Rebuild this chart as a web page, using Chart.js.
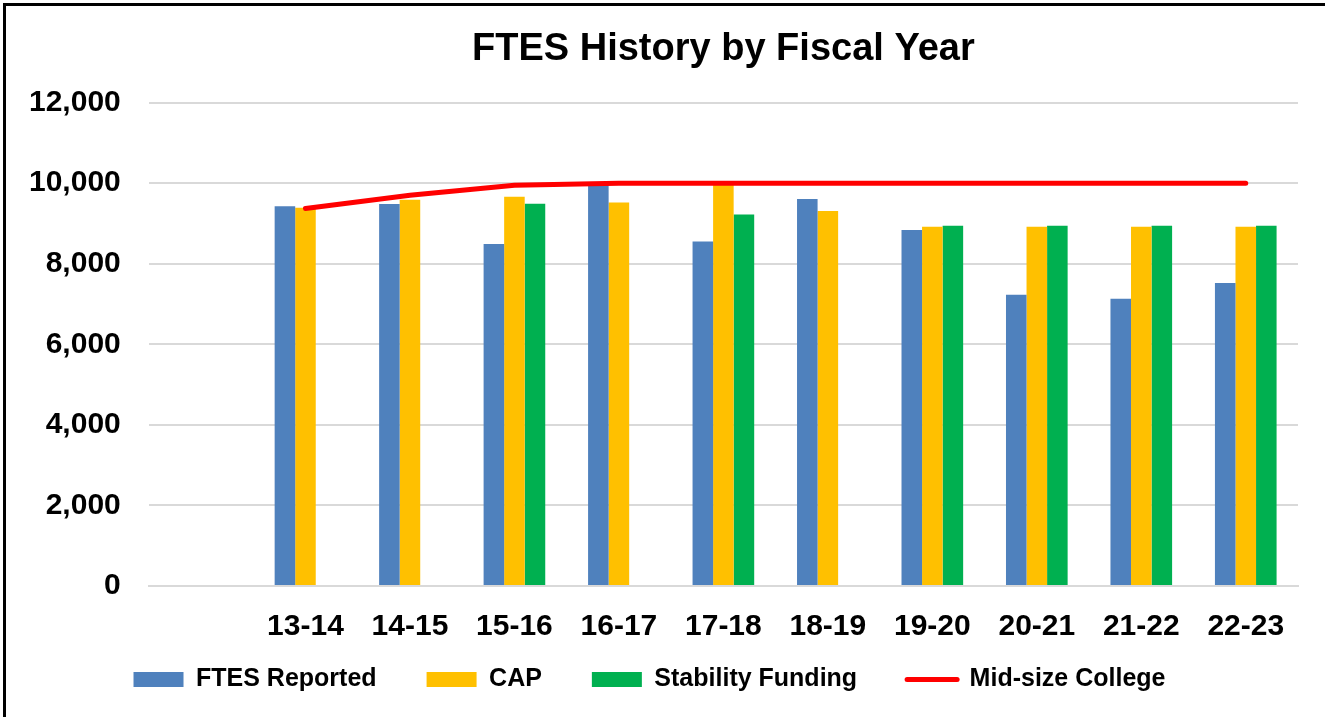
<!DOCTYPE html>
<html>
<head>
<meta charset="utf-8">
<script src="https://cdn.jsdelivr.net/npm/chart.js@4/dist/chart.umd.min.js"></script>
<style>
  html, body { margin: 0; padding: 0; background: #fff; overflow: hidden; }
  #wrap { position: relative; width: 1325px; height: 717px; }
  #frame { position: absolute; left: 3px; top: 3px; width: 1340px; height: 730px; border: 3px solid #000; box-sizing: border-box; }
  #chart { position: absolute; left: 0; top: 0; }
</style>
</head>
<body>
<div id="wrap">
  <div id="frame"></div>
  <canvas id="chart" width="1325" height="717"></canvas>
</div>
<script>
// first slot is an empty category, as in the original
const years = ["", "13-14", "14-15", "15-16", "16-17", "17-18", "18-19", "19-20", "20-21", "21-22", "22-23"];
const ftesReported = [null, 9430, 9480, 8490, 9960, 8550, 9610, 8840, 7230, 7130, 7520];
const cap = [null, 9390, 9590, 9660, 9520, 9960, 9310, 8920, 8920, 8920, 8920];
const stabilityFunding = [null, null, null, 9490, null, 9220, null, 8940, 8940, 8940, 8940];
const midSizeCollege = [null, 9370, 9700, 9950, 10000, 10000, 10000, 10000, 10000, 10000, 10000];

const font = "'Liberation Sans', Arial, sans-serif";
const legendPad = 50;

// legend padding is both the gap between items and the space above them,
// so pull the top of the legend box up once the layout is done
const legendShift = {
    id: "legendShift",
    afterLayout: (chart) => {
        chart.legend.top -= 51;
    }
};

const data = {
    labels: years,
    datasets: [{
        label: "FTES Reported",
        data: ftesReported,
        backgroundColor: "#4f81bd",
        order: 1
    }, {
        label: "CAP",
        data: cap,
        backgroundColor: "#ffc000",
        order: 1
    }, {
        label: "Stability Funding",
        data: stabilityFunding,
        backgroundColor: "#00b050",
        order: 1
    }, {
        type: "line",
        label: "Mid-size College",
        data: midSizeCollege,
        borderColor: "#ff0000",
        backgroundColor: "#ff0000",
        borderWidth: 5,
        borderCapStyle: "round",
        pointRadius: 0,
        tension: 0,
        order: 0
    }]
};

const config = {
    type: "bar",
    data: data,
    plugins: [legendShift],
    options: {
        responsive: false,
        animation: false,
        layout: {
            padding: { left: 1, right: 27, top: 10, bottom: 15 }
        },
        datasets: {
            bar: { categoryPercentage: 0.59, barPercentage: 1 }
        },
        plugins: {
            tooltip: { enabled: false },
            title: {
                display: true,
                fullSize: false,
                text: "FTES History by Fiscal Year",
                color: "#000",
                font: { family: font, size: 38, weight: "bold" },
                padding: { top: 17, bottom: 30 }
            },
            legend: {
                position: "bottom",
                maxHeight: 34,
                labels: {
                    color: "#000",
                    font: { family: font, size: 25, weight: "bold" },
                    usePointStyle: true,
                    pointStyleWidth: 50,
                    boxWidth: 50,
                    boxHeight: 15,
                    padding: legendPad,
                    sort: (a, b) => a.datasetIndex - b.datasetIndex,
                    generateLabels: (chart) => {
                        const items = Chart.defaults.plugins.legend.labels.generateLabels(chart);
                        items.forEach(item => {
                            if (item.datasetIndex === 3) {
                                item.pointStyle = "line";
                                item.lineWidth = 5;
                                item.lineCap = "round";
                                item.strokeStyle = "#ff0000";
                            } else {
                                item.pointStyle = "rect";
                                item.lineWidth = 0;
                            }
                        });
                        return items;
                    }
                }
            }
        },
        scales: {
            x: {
                grid: { display: false, drawTicks: false },
                border: { display: true, color: "#d9d9d9", width: 2 },
                ticks: {
                    color: "#000",
                    padding: 23,
                    maxRotation: 0,
                    font: { family: font, size: 30, weight: "bold" }
                }
            },
            y: {
                min: 0,
                max: 12000,
                grid: { color: "#d9d9d9", lineWidth: 2, drawTicks: false },
                border: { display: false },
                ticks: {
                    stepSize: 2000,
                    color: "#000",
                    padding: 28,
                    font: { family: font, size: 30, weight: "bold" },
                    callback: (v) => v.toLocaleString("en-US")
                }
            }
        }
    }
};

new Chart(document.getElementById("chart"), config);
</script>
</body>
</html>
